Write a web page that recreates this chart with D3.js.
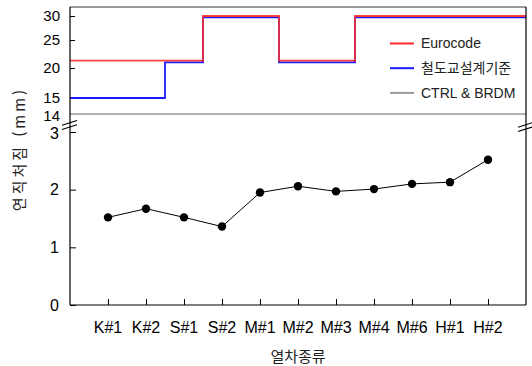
<!DOCTYPE html>
<html lang="ko">
<head>
<meta charset="UTF-8">
<title>연직처짐</title>
<script src="https://d3js.org/d3.v7.min.js"></script>
<style>
  body { margin: 0; background: #fff; }
  text { font-family: "Liberation Sans", Arial, sans-serif; }
  .ko { font-family: "Noto Sans CJK KR", "Noto Sans", sans-serif; }
</style>
</head>
<body>
<div id="chart"></div>
<script>
// train types along x
const trains = ["K#1", "K#2", "S#1", "S#2", "M#1", "M#2", "M#3", "M#4", "M#6", "H#1", "H#2"];
// measured deflection (mm), lower panel
const measured = [1.52, 1.67, 1.52, 1.36, 1.95, 2.06, 1.97, 2.01, 2.10, 2.13, 2.52];
// allowable deflection limits (mm), upper panel
const eurocode = [21.3, 21.3, 21.3, 30, 30, 21.3, 21.3, 30, 30, 30, 30];
const koreanCode = [15, 15, 21, 29.7, 29.7, 21, 21, 29.7, 29.7, 29.7, 29.7];
const ctrlBrdm = 14;
const upperTicks = [30, 25, 20, 15, 14];
const lowerTicks = [0, 1, 2, 3];

const W = 532, H = 366;
const mLeft = 70, mRight = 526, mTop = 7, mBottom = 305;

const svg = d3.select("#chart").append("svg")
  .attr("width", W).attr("height", H);

const x = d3.scaleLinear().domain([0, trains.length + 1]).range([mLeft, mRight]);
// upper panel axis is not evenly spaced in the original
const yUp = d3.scaleLinear()
  .domain([14, 15, 20, 25, 30])
  .range([114, 98, 68, 40, 16]);
const yLow = d3.scaleLinear().domain([0, 3]).range([mBottom, 132]);

// step lines (upper)
const stepLine = d3.line()
  .x(d => x(d[0]))
  .y(d => yUp(d[1]))
  .curve(d3.curveStep);
const stepPts = arr => [[0, arr[0]], ...arr.map((v, i) => [i + 1, v]), [trains.length + 1, arr[arr.length - 1]]];

svg.append("line")
  .attr("x1", mLeft).attr("x2", mRight)
  .attr("y1", yUp(ctrlBrdm)).attr("y2", yUp(ctrlBrdm))
  .attr("stroke", "#999").attr("stroke-width", 1.6);

svg.append("path")
  .attr("d", stepLine(stepPts(koreanCode)))
  .attr("fill", "none").attr("stroke", "#1a1aff").attr("stroke-width", 1.8);
svg.append("path")
  .attr("d", stepLine(stepPts(eurocode)))
  .attr("fill", "none").attr("stroke", "#ff2a2a").attr("stroke-width", 1.8)
  .attr("stroke-opacity", 0.9);

// upper axis
svg.append("g")
  .attr("transform", `translate(${mLeft},0)`)
  .call(d3.axisRight(yUp).tickValues(upperTicks.slice(0, 3)).tickSize(5).tickFormat(""))
  .call(g => g.select(".domain").remove())
  .call(g => g.selectAll("line").attr("stroke", "#000"));
svg.append("g").selectAll("text")
  .data(upperTicks)
  .join("text")
  .attr("x", 60)
  .attr("y", d => yUp(d) + (d === 14 ? 1.5 : 0))
  .attr("dy", "0.35em")
  .attr("text-anchor", "end")
  .style("font-size", "15px")
  .text(d => d);

// lower panel axes
svg.append("g")
  .attr("transform", `translate(${mLeft},0)`)
  .call(d3.axisRight(yLow).tickValues(lowerTicks).tickSize(6).tickFormat(""))
  .call(g => g.select(".domain").remove());
svg.append("g").selectAll("text")
  .data(lowerTicks)
  .join("text")
  .attr("x", 59)
  .attr("y", d => yLow(d) + (d === 3 ? 1.5 : 0))
  .attr("dy", "0.35em")
  .attr("text-anchor", "end")
  .style("font-size", "16px")
  .text(d => d);

svg.append("g")
  .attr("transform", `translate(0,${mBottom})`)
  .call(d3.axisTop(x).tickValues(d3.range(1, trains.length + 1)).tickSize(6).tickFormat(""))
  .call(g => g.select(".domain").remove());
svg.append("g").selectAll("text")
  .data(trains)
  .join("text")
  .attr("x", (d, i) => x(i + 1))
  .attr("y", 333)
  .attr("text-anchor", "middle")
  .style("font-size", "16px")
  .text(d => d);

// frame
svg.append("line").attr("x1", mLeft).attr("x2", mRight).attr("y1", mTop).attr("y2", mTop)
  .attr("stroke", "#333").attr("stroke-width", 1.2);
svg.append("line").attr("x1", mLeft).attr("x2", mRight).attr("y1", mBottom).attr("y2", mBottom)
  .attr("stroke", "#000").attr("stroke-width", 1.2);
svg.append("line").attr("x1", mLeft).attr("x2", mLeft).attr("y1", mTop).attr("y2", mBottom)
  .attr("stroke", "#000").attr("stroke-width", 1.2);
svg.append("line").attr("x1", mRight).attr("x2", mRight).attr("y1", mTop).attr("y2", mBottom)
  .attr("stroke", "#000").attr("stroke-width", 1.2);

// axis break marks
[[mLeft, 125], [mRight, 127]].forEach(([bx, by]) => {
  [-2.2, 2.2].forEach(off => {
    svg.append("line")
      .attr("x1", bx - 8).attr("y1", by + off + 2.4)
      .attr("x2", bx + 7).attr("y2", by + off - 2.4)
      .attr("stroke", "#000").attr("stroke-width", 1.1);
  });
});

// measured series
const line = d3.line().x((d, i) => x(i + 1)).y(d => yLow(d));
svg.append("path")
  .attr("d", line(measured))
  .attr("fill", "none").attr("stroke", "#000").attr("stroke-width", 1);
svg.append("g").selectAll("circle")
  .data(measured)
  .join("circle")
  .attr("cx", (d, i) => x(i + 1))
  .attr("cy", d => yLow(d))
  .attr("r", 4.2)
  .attr("fill", "#000");

// legend
const legend = [
  { name: "Eurocode", color: "#ff2a2a", ko: false },
  { name: "철도교설계기준", color: "#1a1aff", ko: true },
  { name: "CTRL & BRDM", color: "#999", ko: false }
];
const lg = svg.append("g").selectAll("g")
  .data(legend)
  .join("g")
  .attr("transform", (d, i) => `translate(390,${43.5 + i * 24.7})`);
lg.append("line")
  .attr("x1", 0).attr("x2", 24)
  .attr("stroke", d => d.color).attr("stroke-width", 2);
lg.append("text")
  .attr("x", 31).attr("dy", "0.35em")
  .attr("class", d => d.ko ? "ko" : null)
  .style("font-size", "14px")
  .style("fill", "#222")
  .text(d => d.name);

// axis titles
svg.append("text")
  .attr("class", "ko")
  .attr("x", 298).attr("y", 362)
  .attr("text-anchor", "middle")
  .style("font-size", "15px")
  .style("fill", "#222")
  .text("열차종류");
svg.append("text")
  .attr("class", "ko")
  .attr("transform", "translate(25,149) rotate(-90)")
  .attr("text-anchor", "middle")
  .style("font-size", "15px")
  .style("fill", "#222")
  .style("letter-spacing", "3px")
  .text("연직처짐 (mm)");
</script>
</body>
</html>
